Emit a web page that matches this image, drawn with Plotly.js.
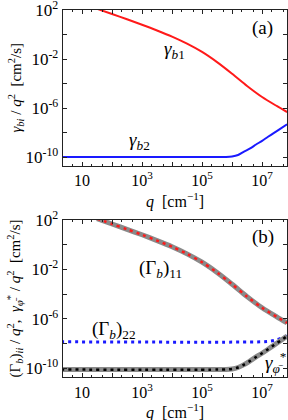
<!DOCTYPE html>
<html><head><meta charset="utf-8">
<script src="https://cdn.plot.ly/plotly-3.0.1.min.js"></script>
<style>html,body{margin:0;padding:0;background:#fff}#c{width:288px;height:420px}</style>
</head><body><div id="c"></div>
<script>
// panel (a): gamma_b1 / q^2 and gamma_b2 / q^2
const qB1 = [31.6, 100, 316, 1e3, 3.16e3, 1e4, 3.16e4, 1e5, 3.16e5, 1e6, 3.16e6, 1e7, 3.16e7, 6.8e7];
const gB1 = [126, 46.8, 17.4, 6.3, 2.14, 0.68, 0.18, 0.038, 5.6e-3, 6.3e-4, 6.3e-5, 7.9e-6, 1.4e-6, 4.7e-7];
const qB2 = [2, 3.16e5, 6.3e5, 1e6, 1.58e6, 2.5e6, 4e6, 6.3e6, 1e7, 1.58e7, 2.5e7, 4e7, 6.8e7];
const gB2 = [1e-10, 1e-10, 1.02e-10, 1.12e-10, 1.48e-10, 2.8e-10, 5e-10, 1.05e-9, 2.1e-9, 4.5e-9, 9.3e-9, 2e-8, 4.7e-8];
// panel (b)
const qG11 = qB1;
const G11 = gB1;
const qG22 = [2, 1e7, 2e7, 3.2e7, 5e7, 7e7];
const G22 = [1.4e-8, 1.4e-8, 1.6e-8, 2.1e-8, 3.2e-8, 4.1e-8];
const qPhi = [2, 3.16e5, 6.3e5, 1e6, 1.58e6, 2.5e6, 4e6, 6.3e6, 1e7, 1.58e7, 2.5e7, 4e7, 6.8e7];
const gPhi = [7.9e-11, 7.9e-11, 8.1e-11, 8.9e-11, 1.17e-10, 2e-10, 4e-10, 8.3e-10, 1.66e-9, 3.5e-9, 7.6e-9, 1.66e-8, 4e-8];
// tick labels
const xTickVals = [10, 1e2, 1e3, 1e4, 1e5, 1e6, 1e7];
const xTickText = ['10', '', '10<sup>3</sup>', '', '10<sup>5</sup>', '', '10<sup>7</sup>'];
const yTickVals = [1e2, 1, 1e-2, 1e-4, 1e-6, 1e-8, 1e-10];
const yTickText = ['10<sup>2</sup>', '', '10<sup>-2</sup>', '', '10<sup>-6</sup>', '', '10<sup>-10</sup>'];
const xTitle = '<i>q</i>  [cm<sup>−1</sup>]';

const serif = 'Liberation Serif, Times New Roman, serif';
const sp = {shape: 'spline', smoothing: 0.8};
const traces = [
  {x: qB1, y: gB1, xaxis: 'x', yaxis: 'y', mode: 'lines', line: Object.assign({color: '#ff1a1a', width: 2}, sp)},
  {x: qB2, y: gB2, xaxis: 'x', yaxis: 'y', mode: 'lines', line: Object.assign({color: '#1a1aff', width: 2}, sp)},
  {x: qG11, y: G11, xaxis: 'x2', yaxis: 'y2', mode: 'lines', line: Object.assign({color: '#8a8a8a', width: 5}, sp)},
  {x: qG11, y: G11, xaxis: 'x2', yaxis: 'y2', mode: 'lines', line: Object.assign({color: '#ff1a1a', width: 2.5, dash: '3px,4px'}, sp)},
  {x: qG22, y: G22, xaxis: 'x2', yaxis: 'y2', mode: 'lines', line: Object.assign({color: '#1a1aff', width: 3, dash: '3px,4px'}, sp)},
  {x: qPhi, y: gPhi, xaxis: 'x2', yaxis: 'y2', mode: 'lines', line: Object.assign({color: '#8a8a8a', width: 5}, sp)},
  {x: qPhi, y: gPhi, xaxis: 'x2', yaxis: 'y2', mode: 'lines', line: Object.assign({color: '#000', width: 2.5, dash: '3px,4px'}, sp)}
];

function xax(anchor) {
  return {
    type: 'log', range: [0.367, 7.83], anchor: anchor,
    tickmode: 'array', tickvals: xTickVals, ticktext: xTickText,
    ticks: 'inside', ticklen: 4, tickcolor: '#222', mirror: 'ticks',
    showline: true, linecolor: '#222', linewidth: 1.3, showgrid: false, zeroline: false,
    minor: {ticks: 'inside', ticklen: 2, dtick: 'D2', tickcolor: '#222', showgrid: false},
    tickfont: {family: serif, size: 16, color: '#000'}, ticklabeloverflow: 'allow'
  };
}
function yax(domain, title, fs) {
  return {
    type: 'log', range: [-10.7, 2], domain: domain,
    tickmode: 'array', tickvals: yTickVals, ticktext: yTickText,
    ticks: 'inside', ticklen: 4, tickcolor: '#222', mirror: 'ticks',
    showline: true, linecolor: '#222', linewidth: 1.3, showgrid: false, zeroline: false,
    tickfont: {family: serif, size: 17, color: '#000'}, ticklabeloverflow: 'allow',
    title: {text: title, font: {family: serif, size: fs, color: '#000'}, standoff: 0}
  };
}
const af = {family: serif, size: 19, color: '#000'};
const tf = {family: serif, size: 16, color: '#000'};
const layout = {
  width: 288, height: 420, showlegend: false,
  paper_bgcolor: '#fff', plot_bgcolor: '#fff',
  margin: {l: 63, r: 1, t: 10, b: 43},
  xaxis: xax('y'), xaxis2: xax('y2'),
  yaxis: yax([0.576, 1], '<i>γ</i><sub><i>bi</i></sub> / <i>q</i><sup>2</sup>  [cm<sup>2</sup>/s]', 15),
  yaxis2: yax([0, 0.428], '(Γ<sub><i>b</i></sub>)<sub><i>ii</i></sub> / <i>q</i><sup>2</sup>,  <i>γ</i><sub><i>φ̄</i></sub><sup>*</sup> / <i>q</i><sup>2</sup>  [cm<sup>2</sup>/s]', 15),
  annotations: [
    {xref: 'paper', yref: 'paper', x: 0.5, y: 0.481, yanchor: 'middle', text: xTitle, showarrow: false, font: tf},
    {xref: 'paper', yref: 'paper', x: 0.5, y: -0.094, yanchor: 'middle', text: xTitle, showarrow: false, font: tf},
    {xref: 'x', yref: 'y', x: 7.0, y: 0.53, text: '(a)', showarrow: false, font: af},
    {xref: 'x', yref: 'y', x: 4.07, y: -1.3, text: '<i>γ</i><sub><i>b</i>1</sub>', showarrow: false, font: af},
    {xref: 'x', yref: 'y', x: 2.93, y: -8.7, text: '<i>γ</i><sub><i>b</i>2</sub>', showarrow: false, font: af},
    {xref: 'x2', yref: 'y2', x: 7.03, y: 0.61, text: '(b)', showarrow: false, font: af},
    {xref: 'x2', yref: 'y2', x: 3.63, y: -2.0, text: '(Γ<sub><i>b</i></sub>)<sub>11</sub>', showarrow: false, font: af},
    {xref: 'x2', yref: 'y2', x: 2.07, y: -6.9, text: '(Γ<sub><i>b</i></sub>)<sub>22</sub>', showarrow: false, font: af},
    {xref: 'x2', yref: 'y2', x: 7.45, y: -9.5, text: '<i>γ</i><sub><i>φ̄</i></sub><sup>*</sup>', showarrow: false, font: af}
  ]
};
Plotly.newPlot('c', traces, layout, {staticPlot: true, displayModeBar: false});
</script></body></html>
